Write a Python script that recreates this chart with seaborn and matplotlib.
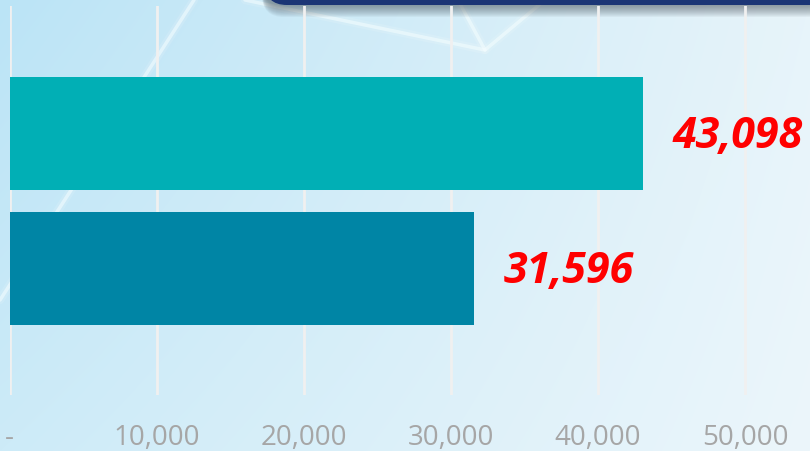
import numpy as np
import matplotlib.pyplot as plt
import seaborn as sns
from matplotlib.patches import FancyBboxPatch

# data
categories = ["Series A", "Series B"]
values = [43098, 31596]
bar_colors = ["#01AFB5", "#0085A5"]
tick_values = [0, 10000, 20000, 30000, 40000, 50000]
tick_labels = ["-", "10,000", "20,000", "30,000", "40,000", "50,000"]

plt.rcParams['font.family'] = ['Open Sans', 'DejaVu Sans']

W, H = 810, 451
fig = plt.figure(figsize=(W / 100, H / 100), dpi=100)

# background: soft blue gradient with faint decorative lines
bg = fig.add_axes([0, 0, 1, 1], zorder=-10)
corners = np.array([[[187, 228, 246], [231, 244, 250]],
                    [[205, 235, 248], [236, 246, 251]]]) / 255
u = np.linspace(0, 1, W)[None, :, None]
v = np.linspace(0, 1, H)[:, None, None]
img = (corners[0, 0] * (1 - u) * (1 - v) + corners[0, 1] * u * (1 - v)
       + corners[1, 0] * (1 - u) * v + corners[1, 1] * u * v)
bg.imshow(img, extent=[0, W, H, 0], aspect='auto', zorder=0)
bg.set_xlim(0, W)
bg.set_ylim(H, 0)
bg.axis('off')

for pts in [[(194, 0), (0, 300)], [(245, 0), (485, 50), (545, 0)], [(458, 0), (485, 50)]]:
    xs, ys = zip(*pts)
    bg.plot(xs, ys, color='white', lw=6, alpha=0.12, solid_capstyle='round', zorder=1)
    bg.plot(xs, ys, color='#f5feff', lw=2.5, alpha=0.55, solid_capstyle='round', zorder=1)

# dark title box at the top, with a soft shadow under it
for k in range(12, 0, -1):
    bg.add_patch(FancyBboxPatch((262, -60), 700, 65 + k,
                                boxstyle='round,pad=0,rounding_size=22',
                                fc='#4a555e', ec='none', alpha=0.06, zorder=4))
bg.add_patch(FancyBboxPatch((265, -60), 700, 65,
                            boxstyle='round,pad=0,rounding_size=22',
                            fc='#1B3575', ec='none', zorder=5))

# main chart
x0, top, bottom = 9.5, 6, 395
px_per_unit = (745 - x0) / 50000
ax = fig.add_axes([x0 / W, (H - bottom) / H, 1 - x0 / W, (bottom - top) / H])
ax.patch.set_alpha(0)

sns.barplot(x=values, y=categories, hue=categories, palette=bar_colors,
            orient='h', width=0.837, saturation=1, legend=False, ax=ax, zorder=3)

ax.set_xlim(0, (W - x0) / px_per_unit)
ax.set_ylim(1.937, -0.944)
ax.set_xticks(tick_values)
ax.set_xticklabels(tick_labels)
ax.grid(axis='x', color='#f0f0f0', lw=2)
ax.grid(axis='y', visible=False)
ax.set_axisbelow(True)
ax.set_yticks([])
ax.set_xlabel('')
ax.set_ylabel('')
for s in ax.spines.values():
    s.set_visible(False)
ax.tick_params(axis='x', length=0, pad=21, labelsize=20, labelcolor='#a6a6a6')

for i, val in enumerate(values):
    ax.annotate(f'{val:,}', xy=(val, i), xytext=(21, -2), textcoords='offset points',
                ha='left', va='center', color='red', fontsize=31,
                fontweight='bold', fontstyle='italic')

fig.savefig('out.png', dpi=100)
